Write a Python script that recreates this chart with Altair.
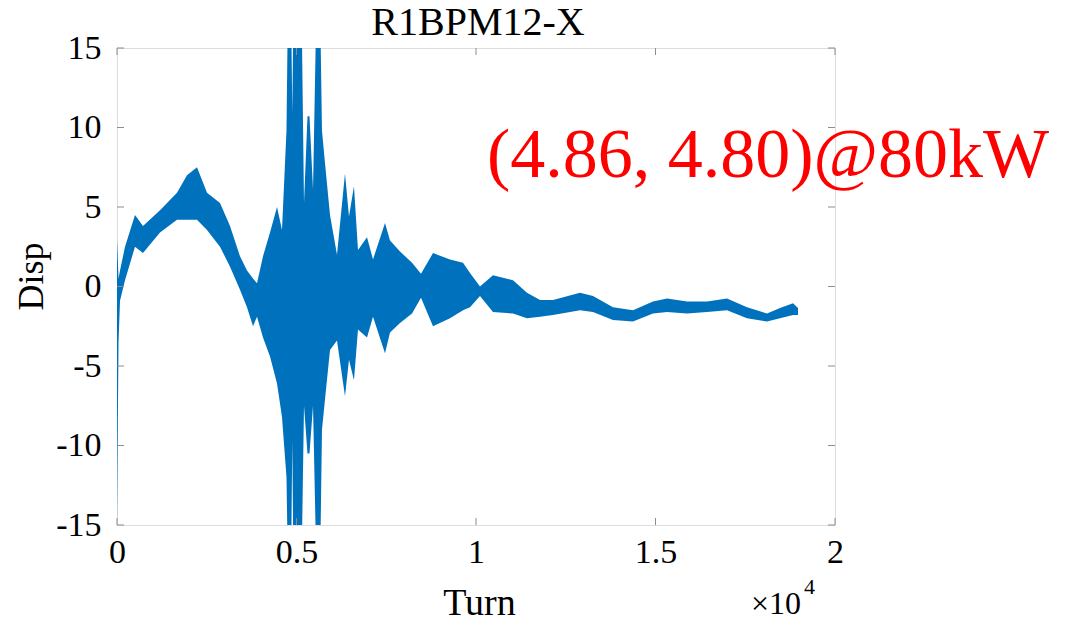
import altair as alt
import pandas as pd

# Envelope of the BPM signal (turn, upper, lower)
turn = [0, 42, 84, 223, 501, 724, 1198, 1671, 1950, 2228,
        2507, 2869, 3148, 3426, 3621, 3788, 3900, 4067, 4262, 4457,
        4596, 4721, 4763, 4847, 4883, 4916, 5139, 5209, 5306, 5362,
        5460, 5557, 5655, 5710, 5794, 5933, 6128, 6351, 6462, 6601,
        6713, 6964, 7131, 7465, 7605, 7883, 8218, 8468, 8802, 9276,
        9638, 9833, 10111, 10473, 11031, 11420, 11783, 12145, 12897, 13259,
        13816, 14373, 14930, 15320, 15878, 16435, 16992, 17549, 18106, 18469,
        18831, 18970]
upper = [3.0, 0.5, 1.0, 2.5, 4.5, 3.8, 4.8, 5.9, 7.0, 7.5,
         5.9, 5.25, 3.8, 1.9, 1.0, 0.5, 0.2, 1.9, 3.4, 5.0,
         3.55, 9.8, 18, 18, 10.9, 18, 18, 5.25, 10.7, 10.7,
         6.1, 18, 18, 9.8, 7.75, 4.5, 2.0, 7.1, 4.4, 6.3,
         2.3, 3.1, 1.7, 4.0, 2.9, 2.2, 1.5, 0.8, 2.1, 1.7,
         1.5, 0.85, 0.0, 0.7, 0.4, -0.4, -0.85, -0.85, -0.4, -0.6,
         -1.3, -1.5, -0.95, -0.75, -0.95, -0.95, -0.75, -1.3, -1.7, -1.35,
         -1.05, -1.35]
lower = [-15, -3.5, -0.9, 0.4, 2.5, 2.1, 3.4, 4.2, 4.2, 4.2,
         3.55, 2.5, 1.25, -0.2, -1.3, -2.5, -1.9, -3.2, -4.4, -6.1,
         -8.2, -12, -18, -18, -9.7, -18, -18, -7.5, -10.5, -10.5,
         -7.5, -18, -18, -9.0, -7.1, -4.0, -3.4, -6.9, -4.6, -5.9,
         -2.7, -3.2, -1.9, -4.2, -2.9, -2.3, -1.7, -0.7, -2.5, -2.0,
         -1.5, -1.3, -0.6, -1.6, -1.7, -2.0, -1.9, -1.8, -1.5, -1.6,
         -2.1, -2.2, -1.7, -1.6, -1.7, -1.6, -1.5, -2.0, -2.2, -2.0,
         -1.8, -1.8]

x_ticks = [0, 5000, 10000, 15000, 20000]
y_ticks = [-15, -10, -5, 0, 5, 10, 15]

title_text = "R1BPM12-X"
x_title = "Turn"
y_title = "Disp"
annotation = "(4.86, 4.80)@80kW"

W, H = 718, 477
FONT = "Liberation Serif"
AX = "#8c8c8c"
BLUE = "#0072BD"

df = pd.DataFrame({"turn": turn, "upper": upper, "lower": lower})
xt = pd.DataFrame({"turn": x_ticks})
yt = pd.DataFrame({"upper": y_ticks})

xscale = alt.Scale(domain=[0, 20000], nice=False, zero=False)
yscale = alt.Scale(domain=[-15, 15], nice=False, zero=False)

xaxis = alt.Axis(values=x_ticks, labelExpr="'' + datum.value/10000",
                 ticks=False, tickSize=0, grid=False, domain=False,
                 labelFont=FONT, labelFontSize=34, labelColor="black",
                 labelPadding=10, labelFlush=False,
                 title=x_title, titleFont=FONT, titleFontSize=38,
                 titleFontWeight="normal", titleColor="black",
                 titleX=362, titleY=89, titleBaseline="alphabetic",
                 titleAlign="center")
yaxis = alt.Axis(values=y_ticks, labelExpr="'' + datum.value",
                 ticks=False, tickSize=0, grid=False, domain=False,
                 labelFont=FONT, labelFontSize=34, labelColor="black",
                 labelPadding=16, labelFlush=False, labelBaseline="middle",
                 title=y_title, titleFont=FONT, titleFontSize=36,
                 titleFontWeight="normal", titleColor="black",
                 titleAngle=270, titleX=-86, titleY=228,
                 titleBaseline="middle", titleAlign="center")

X = alt.X("turn:Q", scale=xscale, axis=xaxis)
Y = alt.Y("upper:Q", scale=yscale, axis=yaxis)

band = alt.Chart(df).mark_area(color=BLUE, clip=True, opacity=1).encode(
    x=X, y=Y, y2="lower:Q")

xt_bottom = alt.Chart(xt).mark_rule(color=AX, strokeWidth=1).encode(
    x=X, y=alt.value(H), y2=alt.value(H - 7))
xt_top = alt.Chart(xt).mark_rule(color=AX, strokeWidth=1).encode(
    x=X, y=alt.value(0), y2=alt.value(7))
yt_left = alt.Chart(yt).mark_rule(color=AX, strokeWidth=1).encode(
    y=Y, x=alt.value(0), x2=alt.value(7))
yt_right = alt.Chart(yt).mark_rule(color=AX, strokeWidth=1).encode(
    y=Y, x=alt.value(W), x2=alt.value(W - 7))

ttl = alt.Chart(pd.DataFrame({"label": [title_text]})).mark_text(
    font=FONT, fontSize=40, color="black", align="center", baseline="alphabetic"
).encode(text="label:N", x=alt.value(361), y=alt.value(-13))

ann = alt.Chart(pd.DataFrame({"label": [annotation]})).mark_text(
    font=FONT, fontSize=70, color="#FF0000", align="left", baseline="alphabetic"
).encode(text="label:N", x=alt.value(370), y=alt.value(129))

mult = alt.Chart(pd.DataFrame({"label": ["\u00d710"]})).mark_text(
    font=FONT, fontSize=32, color="black", align="right", baseline="alphabetic"
).encode(text="label:N", x=alt.value(684), y=alt.value(566))
expo = alt.Chart(pd.DataFrame({"label": ["4"]})).mark_text(
    font=FONT, fontSize=22, color="black", align="left", baseline="alphabetic"
).encode(text="label:N", x=alt.value(687), y=alt.value(546))

chart = alt.layer(band, xt_bottom, xt_top, yt_left, yt_right, ttl, ann, mult, expo).properties(
    width=W, height=H,
    autosize=alt.AutoSizeParams(type="none"),
    padding={"left": 109, "top": 40, "right": 238, "bottom": 100},
).configure_view(stroke=AX, strokeWidth=1).configure(background="white")

chart.save("out.html", embed_options={"renderer": "svg", "actions": False})
